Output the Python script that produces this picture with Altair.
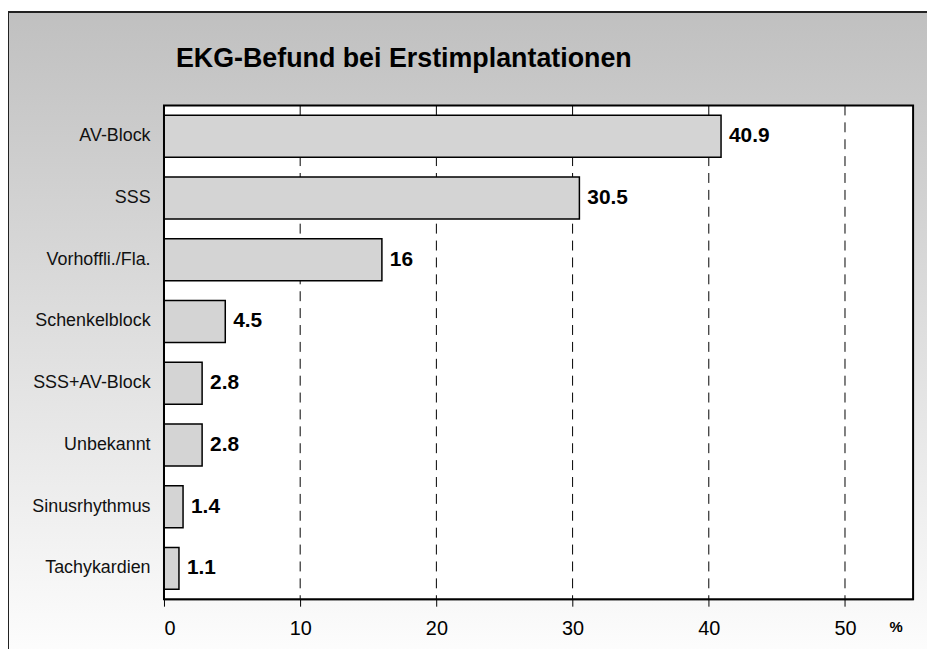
import altair as alt
import pandas as pd

categories = ["AV-Block", "SSS", "Vorhoffli./Fla.", "Schenkelblock",
              "SSS+AV-Block", "Unbekannt", "Sinusrhythmus", "Tachykardien"]
values = [40.9, 30.5, 16, 4.5, 2.8, 2.8, 1.4, 1.1]
value_labels = ["40.9", "30.5", "16", "4.5", "2.8", "2.8", "1.4", "1.1"]
grid_ticks = [10, 20, 30, 40, 50]
axis_ticks = [0, 10, 20, 30, 40, 50]
title_text = "EKG-Befund bei Erstimplantationen"
unit_text = "%"

W, H = 754, 497
FONT = "Liberation Sans"

df = pd.DataFrame({"cat": categories, "val": values, "lab": value_labels})
grid_df = pd.DataFrame({"g": grid_ticks})
one = alt.Data(values=[{}])

xscale = alt.Scale(domain=[0, 55], nice=False, zero=True)
yscale = alt.Scale(paddingInner=0.32, paddingOuter=0.16)

xaxis = alt.Axis(values=axis_ticks, grid=False, labelFont=FONT,
                 labelFontSize=20, labelColor="black", tickColor="black",
                 tickSize=7, tickWidth=1, domainColor="black",
                 labelPadding=12, zindex=1, title=None)
yaxis = alt.Axis(labelFont=FONT, labelFontSize=18, labelColor="#111",
                 ticks=False, domain=True, domainColor="black",
                 labelPadding=14, zindex=1, labelLimit=200, title=None)

background = alt.Chart(one).mark_rect(
    fill=alt.LinearGradient(
        gradient="linear", x1=0, x2=0, y1=0, y2=1,
        stops=[alt.GradientStop(color="#c0c0c0", offset=0),
               alt.GradientStop(color="#ffffff", offset=1)]),
    stroke="#222222", strokeWidth=2,
).encode(x=alt.value(-157), x2=alt.value(W + 30),
         y=alt.value(-94), y2=alt.value(H + 80))

plotbg = alt.Chart(one).mark_rect(fill="white", stroke="black", strokeWidth=2).encode(
    x=alt.value(0), x2=alt.value(W), y=alt.value(0), y2=alt.value(H))

grid = alt.Chart(grid_df).mark_rule(color="black", strokeWidth=1, strokeDash=[10, 7]).encode(
    x=alt.X("g:Q", scale=xscale, axis=xaxis))

bars = alt.Chart(df).mark_bar(fill="#d4d4d4", stroke="black", strokeWidth=1.5).encode(
    y=alt.Y("cat:N", sort=categories, scale=yscale, axis=yaxis),
    x=alt.X("val:Q", scale=xscale, axis=xaxis),
)

texts = alt.Chart(df).mark_text(align="left", baseline="middle", dx=8,
                                font=FONT, fontSize=21, fontWeight="bold",
                                color="black").encode(
    y=alt.Y("cat:N", sort=categories, scale=yscale, axis=yaxis),
    x=alt.X("val:Q", scale=xscale, axis=xaxis),
    text="lab:N")

title = alt.Chart(one).mark_text(align="left", baseline="middle", font=FONT,
                                 fontSize=27, fontWeight="bold", color="black",
                                 text=title_text).encode(
    x=alt.value(12), y=alt.value(-47))

unit = alt.Chart(one).mark_text(align="center", baseline="middle", font=FONT,
                                fontSize=15, fontWeight="bold", color="black",
                                text=unit_text).encode(
    x=alt.value(737), y=alt.value(525))

chart = alt.layer(background, plotbg, grid, bars, texts, title, unit).properties(
    width=W, height=H,
    autosize=alt.AutoSizeParams(type="none"),
    padding={"left": 157, "top": 96, "right": 14, "bottom": 48},
).configure_view(stroke=None)

chart.save("out.html", embed_options={"renderer": "svg", "actions": False})
